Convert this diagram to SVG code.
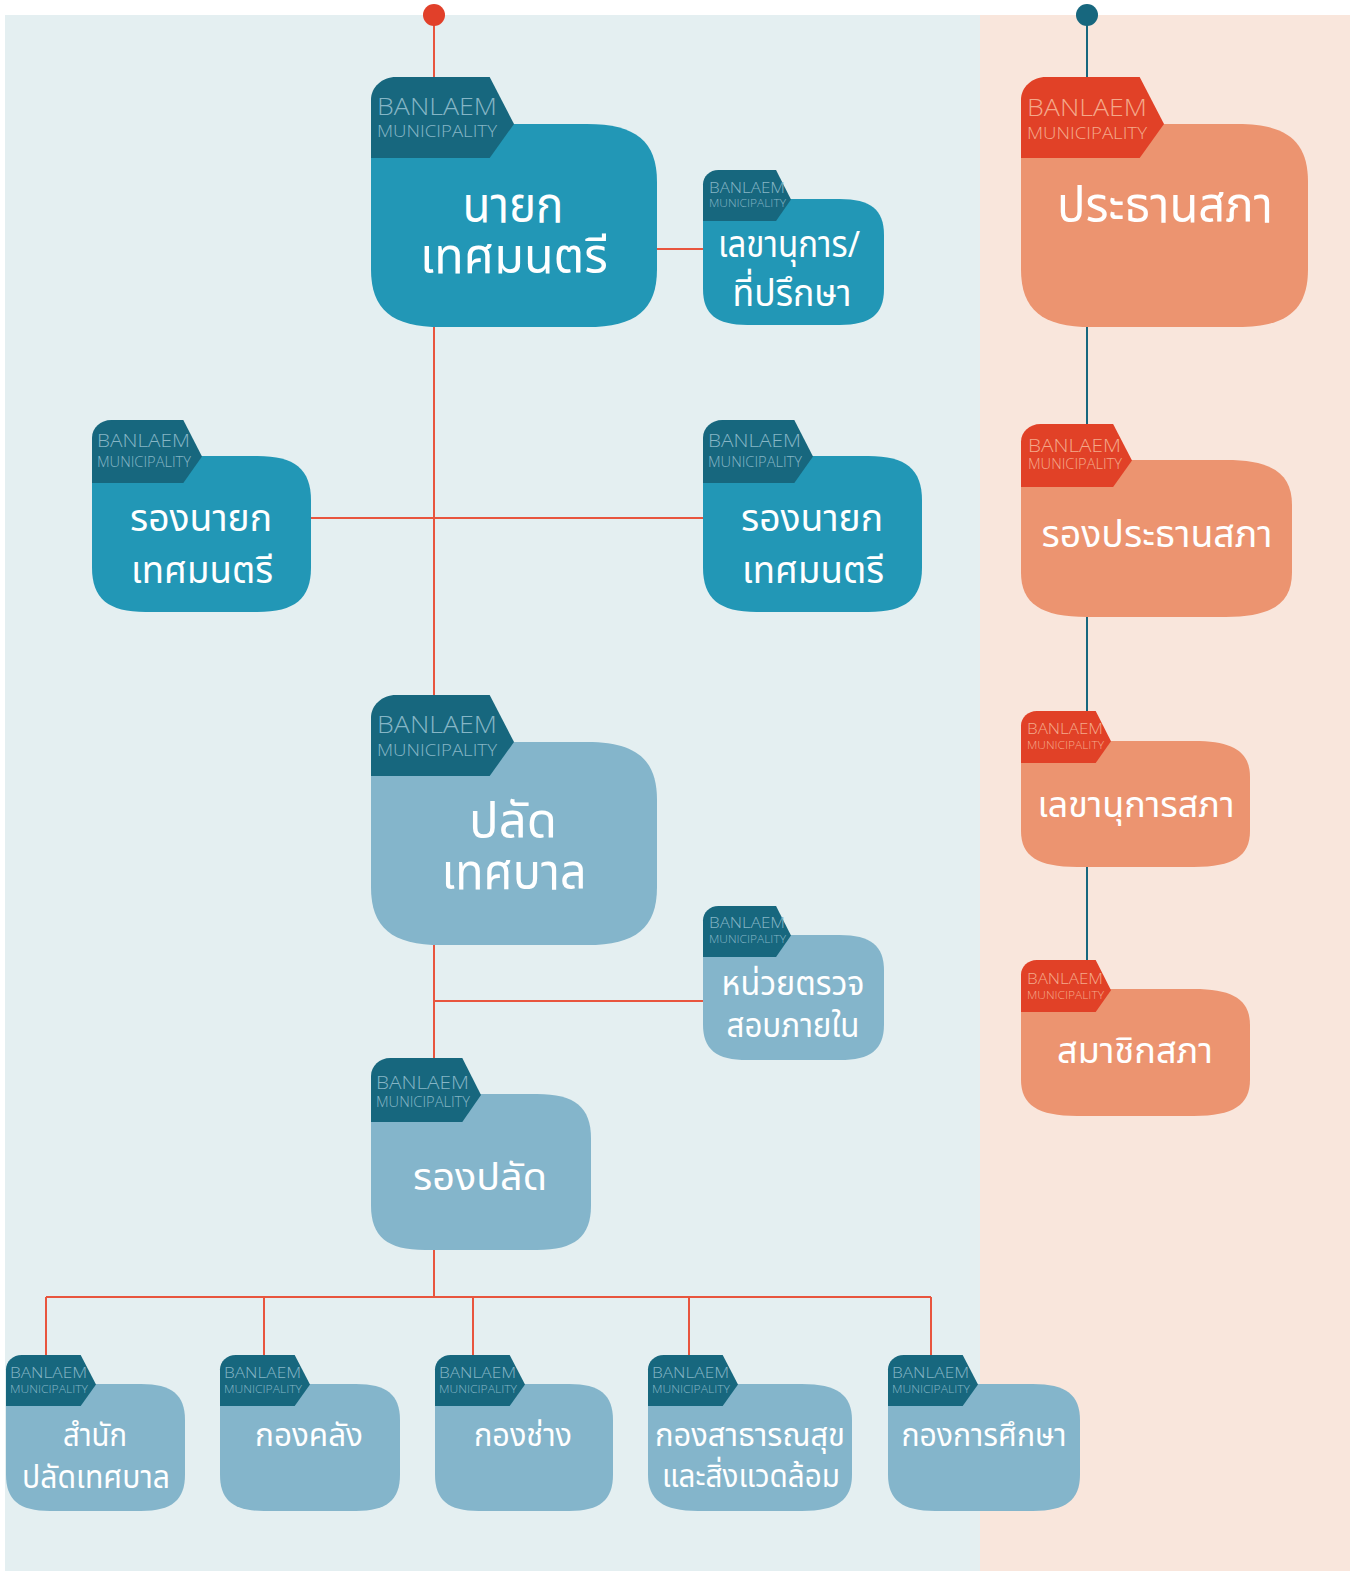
<svg xmlns="http://www.w3.org/2000/svg" xmlns:xlink="http://www.w3.org/1999/xlink" width="1356" height="1571" viewBox="0 0 1356 1571">
<style>
.th{font-family:"Noto Sans Thai","Noto Sans Thai UI","Noto Sans","DejaVu Sans",sans-serif;font-weight:400;fill:#ffffff;text-anchor:middle}
.tb{font-family:"Open Sans","Lato","Liberation Sans",sans-serif;font-weight:300}
.tb.blue{fill:#86b6c6}
.tb.red{fill:#f4a98b}
.ln{fill:none;stroke:#e8553e;stroke-width:2}
.lt{fill:none;stroke:#17677e;stroke-width:2}
.tabB{fill:#17677e}
.tabR{fill:#e14127}
.bodyD{fill:#2297b6}
.bodyL{fill:#84b5cb}
.bodyS{fill:#ec9470}
</style>
<defs>
<path id="body" d="M0 0 H0.755 C0.9265 0 1 0.0855 1 0.285 V0.715 C1 0.9145 0.9265 1 0.755 1 H0.245 C0.0735 1 0 0.9145 0 0.715 Z"/>
<path id="tab" d="M0 1 V0.28 C0 0.125 0.078 0 0.175 0 H0.83 L1 0.58 L0.83 1 Z"/>
</defs>
<rect x="0" y="0" width="1356" height="1571" fill="#ffffff"/>
<rect x="5" y="15" width="975" height="1556" fill="#e4eff1"/>
<rect x="980" y="15" width="370" height="1556" fill="#f9e6dc"/>

<g id="connectors">
<path class="ln" d="M434 15 V77 M434 327 V695 M657 249 H703 M311 518 H703 M434 945 V1058 M434 1001 H703 M434 1250 V1297 M46 1297 H931 M46 1297 V1355 M264 1297 V1355 M473 1297 V1355 M689 1297 V1355 M931 1297 V1355"/>
<circle cx="434" cy="15" r="11" fill="#e1402a"/>
<path class="lt" d="M1087 15 V77 M1087 327 V960"/>
<circle cx="1087" cy="15" r="11" fill="#17677e"/>
</g>

<g id="n-nayok">
<use href="#body" class="bodyD" transform="translate(371 124) scale(286 203)"/>
<use href="#tab" class="tabB" transform="translate(371 77) scale(143 81)"/>
<text class="tb blue" x="377" y="115" font-size="24" textLength="120" lengthAdjust="spacingAndGlyphs">BANLAEM</text>
<text class="tb blue" x="377" y="137" font-size="17" textLength="120" lengthAdjust="spacingAndGlyphs">MUNICIPALITY</text>
<text class="th" x="513" y="222" font-size="50" textLength="101" lengthAdjust="spacingAndGlyphs">นายก</text>
<text class="th" x="514" y="273" font-size="50" textLength="188" lengthAdjust="spacingAndGlyphs">เทศมนตรี</text>
</g>

<g id="n-secretary">
<use href="#body" class="bodyD" transform="translate(703 199) scale(181 126)"/>
<use href="#tab" class="tabB" transform="translate(703 170) scale(88 51)"/>
<text class="tb blue" x="709" y="193" font-size="15" textLength="76" lengthAdjust="spacingAndGlyphs">BANLAEM</text>
<text class="tb blue" x="709" y="207" font-size="11" textLength="77" lengthAdjust="spacingAndGlyphs">MUNICIPALITY</text>
<text class="th" x="789" y="257" font-size="37" textLength="142" lengthAdjust="spacingAndGlyphs">เลขานุการ/</text>
<text class="th" x="792" y="306" font-size="37" textLength="119" lengthAdjust="spacingAndGlyphs">ที่ปรึกษา</text>
</g>

<g id="n-council-chair">
<use href="#body" class="bodyS" transform="translate(1021 124) scale(287 203)"/>
<use href="#tab" class="tabR" transform="translate(1021 77) scale(143 81)"/>
<text class="tb red" x="1027" y="116" font-size="24" textLength="120" lengthAdjust="spacingAndGlyphs">BANLAEM</text>
<text class="tb red" x="1027" y="139" font-size="17" textLength="120" lengthAdjust="spacingAndGlyphs">MUNICIPALITY</text>
<text class="th" x="1165" y="222" font-size="50" textLength="216" lengthAdjust="spacingAndGlyphs">ประธานสภา</text>
</g>

<g id="n-deputy-left">
<use href="#body" class="bodyD" transform="translate(92 456) scale(219 156)"/>
<use href="#tab" class="tabB" transform="translate(92 420) scale(110 63)"/>
<text class="tb blue" x="97" y="447" font-size="19" textLength="93" lengthAdjust="spacingAndGlyphs">BANLAEM</text>
<text class="tb blue" x="97" y="467" font-size="14" textLength="94" lengthAdjust="spacingAndGlyphs">MUNICIPALITY</text>
<text class="th" x="201" y="531" font-size="38" textLength="142" lengthAdjust="spacingAndGlyphs">รองนายก</text>
<text class="th" x="202" y="583" font-size="38" textLength="142" lengthAdjust="spacingAndGlyphs">เทศมนตรี</text>
</g>

<g id="n-deputy-right">
<use href="#body" class="bodyD" transform="translate(703 456) scale(219 156)"/>
<use href="#tab" class="tabB" transform="translate(703 420) scale(110 63)"/>
<text class="tb blue" x="708" y="447" font-size="19" textLength="93" lengthAdjust="spacingAndGlyphs">BANLAEM</text>
<text class="tb blue" x="708" y="467" font-size="14" textLength="94" lengthAdjust="spacingAndGlyphs">MUNICIPALITY</text>
<text class="th" x="812" y="531" font-size="38" textLength="142" lengthAdjust="spacingAndGlyphs">รองนายก</text>
<text class="th" x="813" y="583" font-size="38" textLength="142" lengthAdjust="spacingAndGlyphs">เทศมนตรี</text>
</g>

<g id="n-council-deputy">
<use href="#body" class="bodyS" transform="translate(1021 460) scale(271 157)"/>
<use href="#tab" class="tabR" transform="translate(1021 424) scale(111 63)"/>
<text class="tb red" x="1028" y="452" font-size="19" textLength="93" lengthAdjust="spacingAndGlyphs">BANLAEM</text>
<text class="tb red" x="1028" y="469" font-size="14" textLength="94" lengthAdjust="spacingAndGlyphs">MUNICIPALITY</text>
<text class="th" x="1157" y="547" font-size="38" textLength="231" lengthAdjust="spacingAndGlyphs">รองประธานสภา</text>
</g>

<g id="n-palad">
<use href="#body" class="bodyL" transform="translate(371 742) scale(286 203)"/>
<use href="#tab" class="tabB" transform="translate(371 695) scale(143 81)"/>
<text class="tb blue" x="377" y="733" font-size="24" textLength="120" lengthAdjust="spacingAndGlyphs">BANLAEM</text>
<text class="tb blue" x="377" y="756" font-size="17" textLength="120" lengthAdjust="spacingAndGlyphs">MUNICIPALITY</text>
<text class="th" x="513" y="838" font-size="50" textLength="88" lengthAdjust="spacingAndGlyphs">ปลัด</text>
<text class="th" x="514" y="889" font-size="50" textLength="145" lengthAdjust="spacingAndGlyphs">เทศบาล</text>
</g>

<g id="n-council-secretary">
<use href="#body" class="bodyS" transform="translate(1021 741) scale(229 126)"/>
<use href="#tab" class="tabR" transform="translate(1021 711) scale(90 52)"/>
<text class="tb red" x="1027" y="734" font-size="15" textLength="76" lengthAdjust="spacingAndGlyphs">BANLAEM</text>
<text class="tb red" x="1027" y="749" font-size="11" textLength="77" lengthAdjust="spacingAndGlyphs">MUNICIPALITY</text>
<text class="th" x="1136" y="817" font-size="36" textLength="197" lengthAdjust="spacingAndGlyphs">เลขานุการสภา</text>
</g>

<g id="n-audit">
<use href="#body" class="bodyL" transform="translate(703 935) scale(181 125)"/>
<use href="#tab" class="tabB" transform="translate(703 906) scale(88 51)"/>
<text class="tb blue" x="709" y="928" font-size="15" textLength="76" lengthAdjust="spacingAndGlyphs">BANLAEM</text>
<text class="tb blue" x="709" y="943" font-size="11" textLength="77" lengthAdjust="spacingAndGlyphs">MUNICIPALITY</text>
<text class="th" x="793" y="995" font-size="33" textLength="143" lengthAdjust="spacingAndGlyphs">หน่วยตรวจ</text>
<text class="th" x="793" y="1037" font-size="33" textLength="133" lengthAdjust="spacingAndGlyphs">สอบภายใน</text>
</g>

<g id="n-council-member">
<use href="#body" class="bodyS" transform="translate(1021 989) scale(229 127)"/>
<use href="#tab" class="tabR" transform="translate(1021 960) scale(90 52)"/>
<text class="tb red" x="1027" y="984" font-size="15" textLength="76" lengthAdjust="spacingAndGlyphs">BANLAEM</text>
<text class="tb red" x="1027" y="999" font-size="11" textLength="77" lengthAdjust="spacingAndGlyphs">MUNICIPALITY</text>
<text class="th" x="1135" y="1063" font-size="36" textLength="156" lengthAdjust="spacingAndGlyphs">สมาชิกสภา</text>
</g>

<g id="n-deputy-palad">
<use href="#body" class="bodyL" transform="translate(371 1094) scale(220 156)"/>
<use href="#tab" class="tabB" transform="translate(371 1058) scale(110 64)"/>
<text class="tb blue" x="376" y="1089" font-size="19" textLength="93" lengthAdjust="spacingAndGlyphs">BANLAEM</text>
<text class="tb blue" x="376" y="1107" font-size="14" textLength="94" lengthAdjust="spacingAndGlyphs">MUNICIPALITY</text>
<text class="th" x="480" y="1190" font-size="38" textLength="134" lengthAdjust="spacingAndGlyphs">รองปลัด</text>
</g>

<g id="n-office">
<use href="#body" class="bodyL" transform="translate(6 1384) scale(179 127)"/>
<use href="#tab" class="tabB" transform="translate(6 1355) scale(90 51)"/>
<text class="tb blue" x="10" y="1378" font-size="15" textLength="77" lengthAdjust="spacingAndGlyphs">BANLAEM</text>
<text class="tb blue" x="10" y="1393" font-size="11" textLength="78" lengthAdjust="spacingAndGlyphs">MUNICIPALITY</text>
<text class="th" x="95" y="1446" font-size="32" textLength="64" lengthAdjust="spacingAndGlyphs">สำนัก</text>
<text class="th" x="96" y="1488" font-size="32" textLength="148" lengthAdjust="spacingAndGlyphs">ปลัดเทศบาล</text>
</g>

<g id="n-finance">
<use href="#body" class="bodyL" transform="translate(220 1384) scale(180 127)"/>
<use href="#tab" class="tabB" transform="translate(220 1355) scale(90 51)"/>
<text class="tb blue" x="224" y="1378" font-size="15" textLength="77" lengthAdjust="spacingAndGlyphs">BANLAEM</text>
<text class="tb blue" x="224" y="1393" font-size="11" textLength="78" lengthAdjust="spacingAndGlyphs">MUNICIPALITY</text>
<text class="th" x="309" y="1446" font-size="32" textLength="108" lengthAdjust="spacingAndGlyphs">กองคลัง</text>
</g>

<g id="n-engineering">
<use href="#body" class="bodyL" transform="translate(435 1384) scale(178 127)"/>
<use href="#tab" class="tabB" transform="translate(435 1355) scale(90 51)"/>
<text class="tb blue" x="439" y="1378" font-size="15" textLength="77" lengthAdjust="spacingAndGlyphs">BANLAEM</text>
<text class="tb blue" x="439" y="1393" font-size="11" textLength="78" lengthAdjust="spacingAndGlyphs">MUNICIPALITY</text>
<text class="th" x="523" y="1446" font-size="32" textLength="98" lengthAdjust="spacingAndGlyphs">กองช่าง</text>
</g>

<g id="n-health">
<use href="#body" class="bodyL" transform="translate(648 1384) scale(204 127)"/>
<use href="#tab" class="tabB" transform="translate(648 1355) scale(90 51)"/>
<text class="tb blue" x="652" y="1378" font-size="15" textLength="77" lengthAdjust="spacingAndGlyphs">BANLAEM</text>
<text class="tb blue" x="652" y="1393" font-size="11" textLength="78" lengthAdjust="spacingAndGlyphs">MUNICIPALITY</text>
<text class="th" x="750" y="1446" font-size="32" textLength="190" lengthAdjust="spacingAndGlyphs">กองสาธารณสุข</text>
<text class="th" x="751" y="1487" font-size="32" textLength="178" lengthAdjust="spacingAndGlyphs">และสิ่งแวดล้อม</text>
</g>

<g id="n-education">
<use href="#body" class="bodyL" transform="translate(888 1384) scale(192 127)"/>
<use href="#tab" class="tabB" transform="translate(888 1355) scale(90 51)"/>
<text class="tb blue" x="892" y="1378" font-size="15" textLength="77" lengthAdjust="spacingAndGlyphs">BANLAEM</text>
<text class="tb blue" x="892" y="1393" font-size="11" textLength="78" lengthAdjust="spacingAndGlyphs">MUNICIPALITY</text>
<text class="th" x="984" y="1446" font-size="32" textLength="165" lengthAdjust="spacingAndGlyphs">กองการศึกษา</text>
</g>
</svg>
